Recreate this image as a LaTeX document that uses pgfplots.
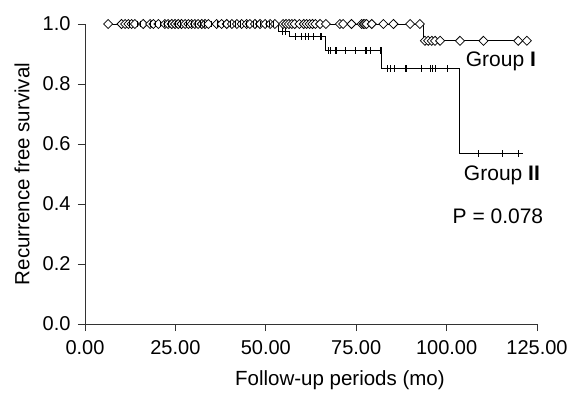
\documentclass[border=0pt]{standalone}
\usepackage{pgfplots}
\pgfplotsset{compat=1.18}
\usepackage{fontspec}
\setmainfont{Liberation Sans}
\begin{document}
\begin{tikzpicture}
\useasboundingbox (-85pt,-70pt) rectangle (487pt,324pt);
\begin{axis}[
  at={(0,0)}, anchor=south west,
  scale only axis, width=452pt, height=300pt,
  xmin=0, xmax=125, ymin=0, ymax=1,
  axis lines*=left,
  axis line style={black!80, line width=0.9pt},
  every tick/.style={black!80, line width=0.9pt},
  tick align=outside, major tick length=7pt,
  xtick={0,25,50,75,100,125}, ytick={0,0.2,0.4,0.6,0.8,1.0},
  /pgf/number format/assume math mode=true,
  tick label style={font=\fontsize{20}{24}\selectfont},
  xticklabel style={yshift=-6pt, /pgf/number format/.cd,fixed,fixed zerofill,precision=2},
  yticklabel style={xshift=-4pt, /pgf/number format/.cd,fixed,fixed zerofill,precision=1},
  xlabel={Follow-up periods (mo)},
  ylabel={Recurrence free survival},
  label style={font=\fontsize{20.5}{24}\selectfont},
  xlabel style={at={(rel axis cs:0.564,0)}, yshift=-56pt, anchor=center},
  ylabel style={at={(rel axis cs:-0.139,0.5)}, anchor=center},
  clip=false,
]
% Group I line
\addplot[const plot, black, line width=0.9pt] coordinates {
(6.4,1) (93.5,0.944) (122.2,0.944)};
% Group I censored (diamonds)
\addplot[only marks, mark=square*, mark size=3.2pt,
  mark options={rotate=45, fill=white, draw=black, line width=0.75pt}] coordinates {
(6.4,1) (10.1,1) (11.1,1) (12.0,1) (12.9,1) (13.8,1) (16.1,1) (18.0,1) (18.9,1) (20.3,1)
(22.1,1) (23.0,1) (24.0,1) (24.9,1) (25.8,1) (26.7,1) (27.7,1) (28.6,1) (29.5,1) (30.4,1)
(31.3,1) (32.3,1) (33.2,1) (34.1,1) (36.4,1) (37.8,1) (39.2,1) (40.6,1) (42.0,1) (43.3,1)
(44.7,1) (45.6,1) (47.0,1) (48.4,1) (49.8,1) (51.2,1) (52.5,1)
(54.8,1) (55.6,1) (56.4,1) (57.2,1) (58.0,1) (59.3,1)
(60.5,1) (61.3,1) (62.1,1) (62.9,1) (63.7,1) (65.0,1) (66.6,1)
(70.5,1) (71.4,1) (73.7,1) (76.5,1) (77.0,1) (77.4,1) (77.9,1) (79.3,1)
(82.5,1) (85.3,1) (89.9,1) (92.6,1)
(94.0,0.944) (94.9,0.944) (95.9,0.944) (96.8,0.944) (98.2,0.944)
(103.7,0.944) (110.2,0.944) (119.8,0.944) (122.2,0.944)};
% Group II line
\addplot[const plot, black, line width=0.9pt] coordinates {
(6.4,1) (53.5,0.975) (56.5,0.957) (66.4,0.911) (82.1,0.852) (103.6,0.568) (121,0.568)};
% Group II censored (ticks)
\addplot[only marks, mark=|, mark size=3.4pt, mark options={line width=0.7pt, black}] coordinates {
(12.4,1) (14.5,1) (15.2,1) (18.0,1) (19.4,1) (20.7,1) (22.0,1) (23.0,1) (25.0,1) (26.3,1)
(28.1,1) (29.5,1) (30.4,1) (31.8,1) (33.0,1) (35.0,1) (36.5,1) (38.2,1) (40.1,1) (41.5,1)
(42.9,1) (44.7,1) (46.5,1) (47.5,1) (48.4,1) (50.2,1) (51.0,1) (52.1,1)
(54.5,0.975) (55.3,0.975)
(58.1,0.957) (59.7,0.957) (60.8,0.957) (61.8,0.957) (63.1,0.957) (65.0,0.957) (65.4,0.957)
(67.3,0.911) (67.8,0.911) (69.1,0.911) (69.6,0.911) (71.9,0.911) (74.7,0.911) (77.4,0.911)
(77.9,0.911) (78.8,0.911) (81.6,0.911) (82.0,0.911)
(83.6,0.852) (84.5,0.852) (85.5,0.852) (88.7,0.852) (89.0,0.852) (93.1,0.852) (95.4,0.852)
(96.1,0.852) (97.0,0.852) (100.1,0.852)
(108.8,0.568) (115.5,0.568) (119.8,0.568)};
\node[font=\fontsize{21}{24}\selectfont] at (axis cs:115.0,0.877) {Group \textbf{I}};
\node[font=\fontsize{21}{24}\selectfont] at (axis cs:115.3,0.497) {Group \textbf{II}};
\node[font=\fontsize{21}{24}\selectfont] at (axis cs:114.2,0.36) {P = 0.078};
\end{axis}
\end{tikzpicture}
\end{document}
